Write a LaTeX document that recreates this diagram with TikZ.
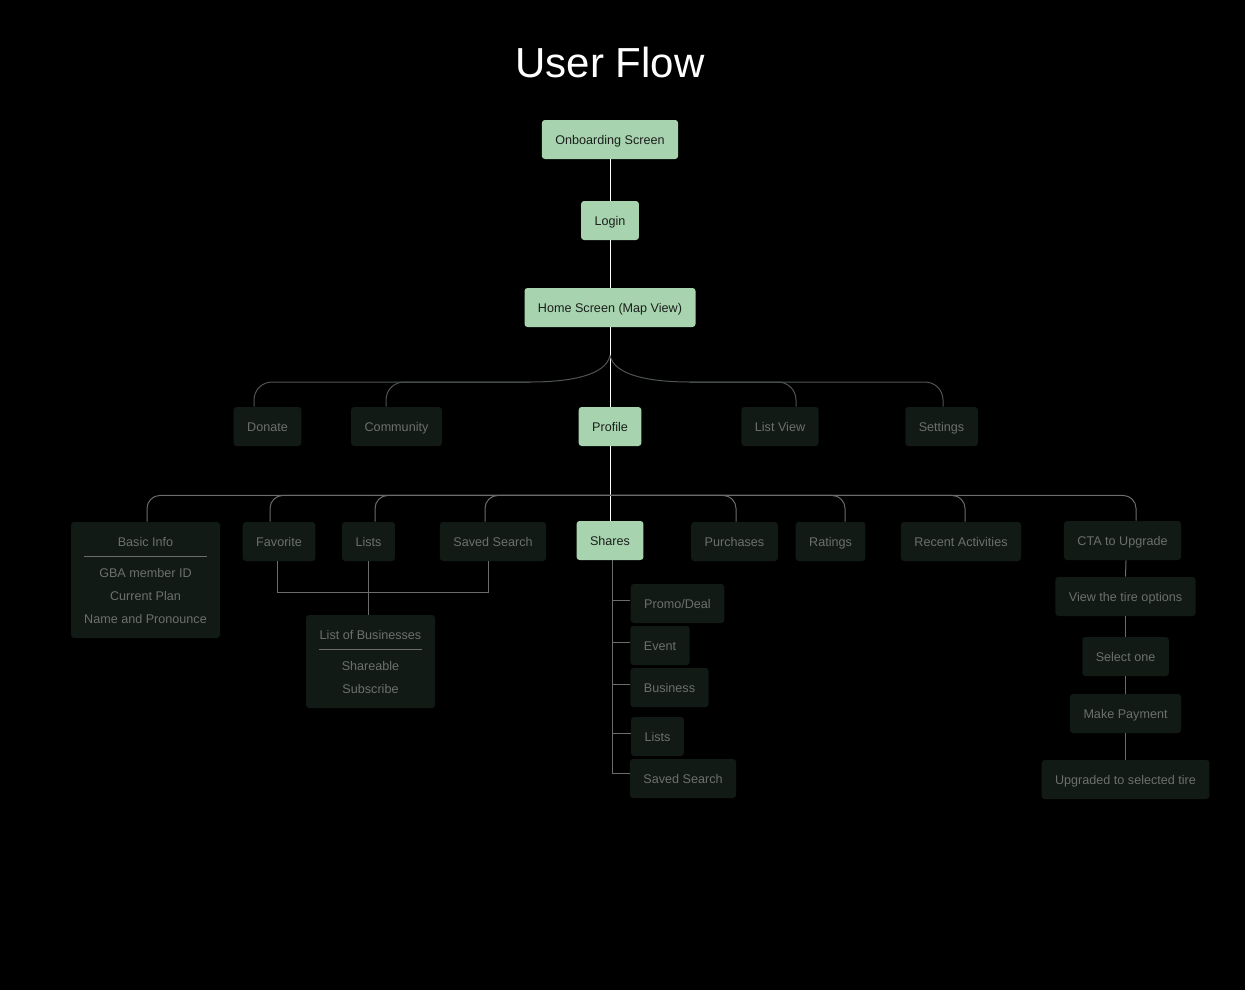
\documentclass[tikz,border=0pt]{standalone}
\usepackage{fontspec}
\setmainfont{Liberation Sans}
\definecolor{mint}{HTML}{A7D3AF}
\definecolor{ink}{HTML}{1B1F1C}
\definecolor{boxdark}{HTML}{111A14}
\definecolor{muted}{HTML}{6B716D}
\definecolor{wire}{HTML}{4F5551}
\definecolor{wiregray}{HTML}{6A6D6B}
\newcommand{\smallfont}{\fontsize{6.3}{7.5}\selectfont}
\tikzset{
	mintbox/.style={fill=mint, text=ink, rounded corners=1.5pt, minimum height=19.5pt, inner xsep=6.75pt, text height=5.2pt, text depth=0.1pt, font=\smallfont},
	darkbox/.style={mintbox, fill=boxdark, text=muted},
	boxtext/.style={text=muted, font=\smallfont, inner sep=0pt, text height=5.2pt, text depth=0.1pt},
	spine/.style={draw=white, line width=0.5pt},
	branch/.style={draw=wire, line width=0.5pt, rounded corners=9pt},
	branchgray/.style={draw=wiregray, line width=0.5pt, rounded corners=6.5pt},
	subline/.style={draw=wiregray, line width=0.5pt}
}

\begin{document}
\begin{tikzpicture}[x=0.5pt,y=-0.5pt]
	\fill[black] (0,0) rectangle (1245,990);
	\node[text=white, font=\fontsize{21}{25}\selectfont] (title) at (610,62) {User Flow};
	% main column
	\node[mintbox] (onboard) at (610,139.5) {Onboarding Screen};
	\node[mintbox] (login) at (610,220.5) {Login};
	\node[mintbox] (home) at (610,307.5) {Home Screen (Map View)};
	\node[mintbox] (profile) at (610,426.5) {Profile};
	\node[mintbox] (shares) at (610,540.5) {Shares};
	% second row
	\node[darkbox] (donate) at (267.5,426.5) {Donate};
	\node[darkbox] (community) at (396.5,426.5) {Community};
	\node[darkbox] (listview) at (780,426.5) {List View};
	\node[darkbox] (settings) at (941.5,426.5) {Settings};
	% third row
	\node[darkbox, minimum width=74.5pt, minimum height=58pt] (basic) at (145.5,580) {};
	\node[boxtext] (basichead) at (145.5,541) {Basic Info};
	\node[boxtext] (memberid) at (145.5,572) {GBA member ID};
	\node[boxtext] (plan) at (145.5,595) {Current Plan};
	\node[boxtext] (pronoun) at (145.5,618) {Name and Pronounce};
	\draw[subline] (84,556) -- (207,556);
	\node[darkbox] (favorite) at (279,541.5) {Favorite};
	\node[darkbox] (lists) at (368.5,541.5) {Lists};
	\node[darkbox] (savedsearch) at (493,541.5) {Saved Search};
	\node[darkbox] (purchases) at (734.5,541.5) {Purchases};
	\node[darkbox] (ratings) at (830.5,541.5) {Ratings};
	\node[darkbox] (recent) at (961,541.5) {Recent Activities};
	\node[darkbox] (cta) at (1122.5,540.5) {CTA to Upgrade};
	% list of businesses
	\node[darkbox, minimum width=64.5pt, minimum height=46.5pt] (business) at (370.5,661.5) {};
	\node[boxtext] (businesshead) at (370.5,634) {List of Businesses};
	\node[boxtext] (shareable) at (370.5,665) {Shareable};
	\node[boxtext] (subscribe) at (370.5,688) {Subscribe};
	\draw[subline] (319,649) -- (422,649);
	% shares items
	\node[darkbox] (promo) at (677.5,603.5) {Promo/Deal};
	\node[darkbox] (event) at (660,645.5) {Event};
	\node[darkbox] (shbusiness) at (669.5,687.5) {Business};
	\node[darkbox] (shlists) at (657.5,736.5) {Lists};
	\node[darkbox] (shsaved) at (683,778.5) {Saved Search};
	% upgrade steps
	\node[darkbox] (tires) at (1125.5,596.5) {View the tire options};
	\node[darkbox] (selectone) at (1125.5,656.5) {Select one};
	\node[darkbox] (payment) at (1125.5,713.5) {Make Payment};
	\node[darkbox] (upgraded) at (1125.5,779.5) {Upgraded to selected tire};
	% connectors
	\draw[spine] (onboard) -- (login);
	\draw[spine] (login) -- (home);
	\draw[spine] (home) -- (profile);
	\draw[spine] (profile) -- (shares);
	\coordinate (fork) at ([yshift=-14pt]home.south);
	\coordinate (leftbend) at (530,382);
	\coordinate (rightbend) at (690,382);
	\draw[branch] (fork) .. controls +(-4,20) and +(40,0) .. (leftbend);
	\draw[branch] (fork) .. controls +(4,20) and +(-40,0) .. (rightbend);
	\draw[branch] (leftbend) -| ([xshift=-6.75pt]donate.north);
	\draw[branch] (leftbend) -| ([xshift=-5.25pt]community.north);
	\draw[branch] (rightbend) -| ([xshift=8pt]listview.north);
	\draw[branch] (rightbend) -| ([xshift=0.75pt]settings.north);
	\coordinate (hub) at ([yshift=-24.5pt]profile.south);
	\draw[branchgray] (hub) -| ([xshift=0.75pt]basic.north);
	\draw[branchgray] (hub) -| ([xshift=-4.5pt]favorite.north);
	\draw[branchgray] (hub) -| ([xshift=3.25pt]lists.north);
	\draw[branchgray] (hub) -| ([xshift=-4pt]savedsearch.north);
	\draw[branchgray] (hub) -| ([xshift=0.75pt]purchases.north);
	\draw[branchgray] (hub) -| ([xshift=7.25pt]ratings.north);
	\draw[branchgray] (hub) -| ([xshift=2pt]recent.north);
	\draw[branchgray] (hub) -| ([xshift=6.75pt]cta.north);
	\draw[subline] ([xshift=-1pt]favorite.south) -- ++(0,31) -| ([xshift=-2.5pt]savedsearch.south);
	\draw[subline] (lists.south) -- (lists.south |- business.north);
	\draw[subline] ([xshift=1pt]shares.south) |- ([yshift=1.5pt]promo.west);
	\draw[subline] ([xshift=1pt]shares.south) |- ([yshift=1.5pt]event.west);
	\draw[subline] ([xshift=1pt]shares.south) |- ([yshift=1.5pt]shbusiness.west);
	\draw[subline] ([xshift=1pt]shares.south) |- ([yshift=1.5pt]shlists.west);
	\draw[subline] ([xshift=1pt]shares.south) |- ([yshift=2.5pt]shsaved.west);
	\draw[subline] ([xshift=1.75pt]cta.south) -- (tires.north);
	\draw[subline] (tires) -- (selectone);
	\draw[subline] (selectone) -- (payment);
	\draw[subline] (payment) -- (upgraded);
\end{tikzpicture}
\end{document}
